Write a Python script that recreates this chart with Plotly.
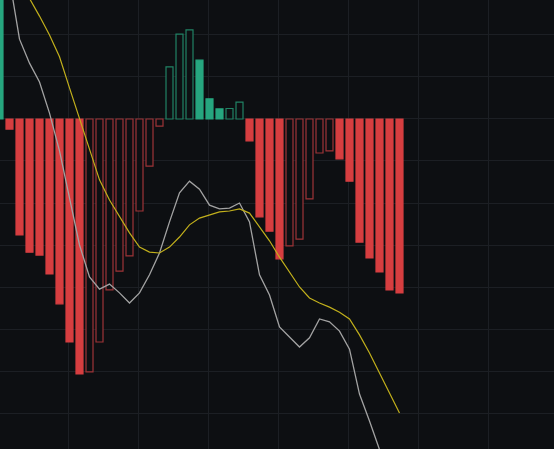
import plotly.graph_objects as go

# MACD histogram, DIF (grey) and DEA (yellow) values, one per bar
idx = list(range(41))
hist = [49.6, -2.4, -27.6, -31.7, -32.4, -36.9, -44.0, -53.1, -60.7, -60.2,
        -53.1, -40.7, -36.2, -32.6, -21.9, -11.2, -1.7, 12.4, 20.2, 21.2,
        14.0, 4.8, 2.4, 2.5, 4.0, -5.2, -23.3, -26.7, -33.3, -30.2,
        -28.6, -19.0, -8.1, -7.6, -9.5, -14.8, -29.3, -33.1, -36.4, -40.7,
        -41.4]
dif = [59.3, 33.3, 19.0, 13.3, 8.8, 1.4, -7.6, -18.6, -30.0, -37.6,
       -40.5, -39.3, -41.4, -43.8, -41.4, -37.1, -31.9, -24.5, -17.6, -14.8,
       -16.7, -20.5, -21.4, -21.2, -20.0, -24.5, -37.1, -41.9, -49.5, -51.9,
       -54.3, -52.1, -47.6, -48.3, -50.5, -54.8, -65.5, -71.9, -78.6, -85.5,
       -90.7]
dea = [34.8, 34.5, 32.9, 28.8, 24.5, 20.0, 14.8, 7.4, 0.2, -7.4,
       -14.5, -19.3, -23.3, -27.1, -30.5, -31.7, -31.9, -30.5, -28.1, -25.2,
       -23.6, -22.9, -22.1, -21.9, -21.4, -22.4, -25.7, -29.0, -32.9, -36.4,
       -40.0, -42.6, -43.8, -44.8, -46.0, -47.6, -51.4, -55.7, -60.5, -65.2,
       -70.0]

BG = "#0d0f12"
RED = "#d63e40"
RED_H = "#9e3437"
GREEN = "#26a67f"
GREEN_H = "#218264"

fills, lines = [], []
for i, v in enumerate(hist):
    filled = i == 0 or v < hist[i - 1]
    if v >= 0:
        fills.append(GREEN if filled else BG)
        lines.append(GREEN if filled else GREEN_H)
    else:
        fills.append(RED if filled else BG)
        lines.append(RED if filled else RED_H)

fig = go.Figure()
fig.add_trace(go.Bar(x=idx, y=hist, width=0.7,
                     marker=dict(color=fills, line=dict(color=lines, width=1.2)),
                     hoverinfo="skip"))
fig.add_trace(go.Scatter(x=idx, y=dif, mode="lines",
                         line=dict(color="#a3a3a3", width=1.3), hoverinfo="skip"))
fig.add_trace(go.Scatter(x=idx, y=dea, mode="lines",
                         line=dict(color="#c2b01c", width=1.2), hoverinfo="skip"))

fig.update_layout(
    width=554, height=449,
    margin=dict(l=0, r=0, t=0, b=0),
    paper_bgcolor=BG, plot_bgcolor=BG,
    showlegend=False,
    xaxis=dict(range=[0.05, 55.45], showgrid=True, gridcolor="#1c1f24", gridwidth=1,
               tick0=6.85, dtick=7, showticklabels=False, zeroline=False,
               fixedrange=True),
    yaxis=dict(range=[-78.57, 28.33], showgrid=True, gridcolor="#1c1f24", gridwidth=1,
               tick0=0, dtick=10, showticklabels=False, zeroline=False,
               fixedrange=True),
)

fig.write_html("out.html", config={"displayModeBar": False},
               post_script="document.body.style.margin='0';document.body.style.background='#0d0f12';")
